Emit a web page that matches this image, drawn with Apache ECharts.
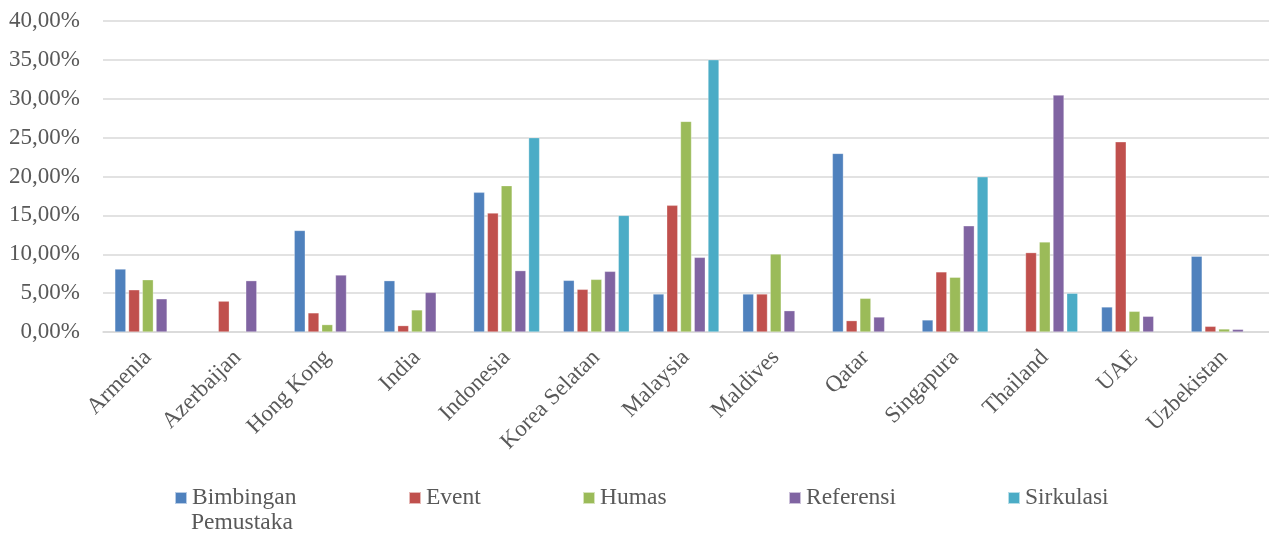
<!DOCTYPE html>
<html>
<head>
<meta charset="utf-8">
<script src="https://cdn.jsdelivr.net/npm/echarts@6/dist/echarts.min.js"></script>
<style>html,body{margin:0;padding:0;background:#fff}#c{width:1269px;height:536px}</style>
</head>
<body>
<div id="c"></div>
<script>
const categories = ['Armenia','Azerbaijan','Hong Kong','India','Indonesia','Korea Selatan','Malaysia','Maldives','Qatar','Singapura','Thailand','UAE','Uzbekistan'];
const bimbingan = [8.1, null, 13.06, 6.6, 17.96, 6.64, 4.89, 4.89, 22.97, 1.55, null, 3.22, 9.74];
const event = [5.43, 3.97, 2.46, 0.82, 15.3, 5.49, 16.29, 4.89, 1.46, 7.73, 10.21, 24.46, 0.73];
const humas = [6.72, null, 0.95, 2.84, 18.82, 6.77, 27.09, 10.03, 4.33, 7.04, 11.59, 2.66, 0.39];
const referensi = [4.27, 6.6, 7.33, 5.09, 7.89, 7.8, 9.6, 2.74, 1.93, 13.65, 30.47, 2.02, 0.34];
const sirkulasi = [null, null, null, null, 25.0, 15.0, 35.02, null, null, 19.96, 4.98, null, null];
const yTicks = { min: 0, max: 40, interval: 5 };
const seriesNames = ['Bimbingan Pemustaka','Event','Humas','Referensi','Sirkulasi'];
const colors = ['#4F81BD','#C0504D','#9BBB59','#8064A2','#4BACC6'];

const font = '"Liberation Serif", "Times New Roman", serif';
const textColor = '#595959';
const dataArrays = [bimbingan, event, humas, referensi, sirkulasi];
const legendLefts = [174, 408, 582, 788, 1007];

const chart = echarts.init(document.getElementById('c'), null, {renderer: 'canvas'});
chart.setOption({
  animation: false,
  color: colors,
  grid: { left: 103, right: 0, top: 21, bottom: 204, containLabel: false },
  xAxis: {
    type: 'category',
    data: categories,
    axisTick: { show: false },
    axisLine: { lineStyle: { color: '#D9D9D9', width: 1.5 } },
    axisLabel: { rotate: 45, fontFamily: font, fontSize: 23, color: textColor, margin: 22, interval: 0 }
  },
  yAxis: {
    type: 'value',
    min: yTicks.min, max: yTicks.max, interval: yTicks.interval,
    axisLine: { show: false },
    axisTick: { show: false },
    splitLine: { lineStyle: { color: '#D9D9D9', width: 1.5 } },
    axisLabel: {
      fontFamily: font, fontSize: 23, color: textColor, margin: 23,
      formatter: v => v.toFixed(2).replace('.', ',') + '%'
    }
  },
  legend: seriesNames.map((n, i) => ({
    data: [n],
    left: legendLefts[i],
    top: 486,
    padding: 0,
    itemWidth: 12, itemHeight: 12, itemGap: 5,
    icon: 'rect',
    textStyle: { fontFamily: font, fontSize: 23.5, color: textColor, padding: [0,0,0,0] },
    formatter: name => name === 'Bimbingan Pemustaka' ? 'Bimbingan' : name
  })),
  graphic: [{
    type: 'text', left: 191, top: 511,
    style: { text: 'Pemustaka', fontFamily: font, fontSize: 23.5, fill: textColor }
  }],
  series: seriesNames.map((n, i) => ({
    name: n,
    type: 'bar',
    data: dataArrays[i],
    barWidth: 11,
    barGap: '25%',
    itemStyle: { color: colors[i], borderColor: 'rgba(255,255,255,0.6)', borderWidth: 0.5 }
  }))
});
</script>
</body>
</html>
